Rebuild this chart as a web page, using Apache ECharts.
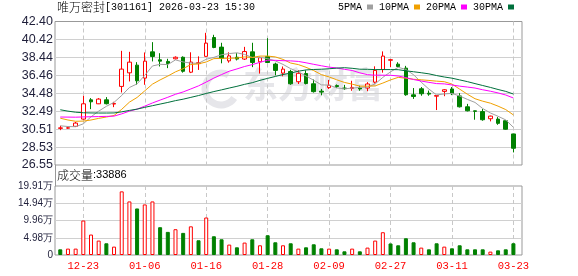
<!DOCTYPE html>
<html><head><meta charset="utf-8">
<script src="https://cdn.jsdelivr.net/npm/echarts@6/dist/echarts.min.js"></script>
<style>html,body{margin:0;padding:0;background:#fff}#c{width:578px;height:276px}</style>
</head><body><div id="c"></div>
<script>
const stockName = '唯万密封';
const stockCode = '301161';
const timeStamp = '2026-03-23 15:30';
const dates = ['12-18','12-19','12-22','12-23','12-24','12-25','12-26','12-29','12-30','12-31',
  '01-05','01-06','01-07','01-08','01-09','01-12','01-13','01-14','01-15','01-16',
  '01-19','01-20','01-21','01-22','01-23','01-26','01-27','01-28','01-29','01-30',
  '02-02','02-03','02-04','02-05','02-06','02-09','02-10','02-11','02-12','02-13',
  '02-24','02-25','02-26','02-27','03-02','03-03','03-04','03-05','03-06','03-09',
  '03-10','03-11','03-12','03-13','03-16','03-17','03-18','03-19','03-20','03-23'];
const open = [30.60,30.62,30.82,31.62,33.75,33.31,33.75,33.28,35.23,36.73,
  37.58,36.15,39.05,38.17,37.99,38.28,38.45,36.80,37.75,38.55,
  40.63,39.57,38.05,38.45,38.25,39.05,37.95,38.54,37.70,36.70,
  36.88,35.75,36.65,35.52,34.70,35.10,35.32,35.05,35.00,35.05,
  35.05,35.70,37.10,38.12,37.69,37.25,34.30,34.97,34.48,34.15,
  34.68,34.95,34.18,32.98,32.53,32.45,31.66,31.62,31.44,29.98];
const close = [30.65,30.66,31.18,33.31,33.53,33.83,33.32,33.35,37.14,37.91,
  35.85,38.02,38.54,38.02,37.76,38.45,36.90,37.92,37.85,40.01,
  39.53,38.32,38.60,38.25,39.08,37.88,38.40,37.87,37.00,37.14,
  35.52,36.68,35.55,34.65,34.60,35.35,35.22,34.98,35.12,34.95,
  35.50,37.00,38.58,38.18,37.43,34.31,34.12,34.42,34.38,34.22,
  34.86,34.42,32.98,32.54,32.48,31.55,31.95,31.15,30.50,28.40];
const low = [30.40,30.55,30.75,31.55,32.72,33.28,33.24,32.94,34.56,35.78,
  35.41,35.41,37.99,37.43,37.25,38.20,36.75,36.70,37.05,38.50,
  39.45,37.78,37.85,38.10,38.15,37.36,36.65,37.80,36.45,36.35,
  35.41,35.50,35.45,34.55,34.25,34.95,35.05,34.85,34.75,34.75,
  34.70,35.55,36.75,37.37,37.36,34.20,33.85,34.20,34.20,32.62,
  34.15,34.27,32.90,32.47,31.55,31.44,31.37,30.99,30.45,27.94];
const high = [30.88,30.78,31.30,34.20,33.94,33.94,34.05,33.53,39.16,39.05,
  37.91,38.98,40.12,38.90,38.28,38.55,38.55,39.00,38.55,41.15,
  40.93,40.05,39.00,38.90,39.60,40.05,38.50,40.56,37.85,37.43,
  37.07,37.00,37.00,36.00,34.95,35.95,35.45,35.40,35.85,35.30,
  35.70,37.45,39.10,38.25,37.90,37.50,35.05,35.16,34.77,34.25,
  34.93,35.16,34.49,33.30,32.55,32.73,32.00,31.84,31.46,30.00];
const volume = [16400,18400,18400,99500,59000,41600,33800,24200,183600,154600,
  134300,145900,154600,80200,66700,74400,63800,82700,42500,108200,
  54100,45400,30000,22200,35800,45400,28000,57000,36700,28000,
  33800,18400,22200,30900,19300,18400,16400,10600,18400,10600,
  21300,41600,65700,33300,28000,48300,36700,21300,16400,33800,
  24200,19300,28000,16400,16400,16400,9700,13500,16400,33886];
const volUp = [0,1,1,1,1,1,0,1,1,1, 0,1,1,0,0,1,0,1,0,1,
  0,0,1,0,1,0,1,0,0,1, 0,1,0,0,0,1,0,0,1,0,
  1,1,1,0,0,0,0,1,0,0, 1,0,0,0,0,0,1,0,0,0];
const ma5 = [30.88,30.80,30.78,31.10,31.87,32.50,33.03,33.47,34.23,35.11,
  35.51,36.45,37.49,37.67,37.64,38.16,37.93,37.81,37.78,38.23,
  38.44,38.73,38.86,38.94,38.76,38.43,38.44,38.30,38.05,37.66,
  37.19,36.84,36.38,35.91,35.40,35.37,35.07,34.96,35.05,35.12,
  35.15,35.51,36.23,36.84,37.34,37.10,36.52,35.69,34.93,34.29,
  34.40,34.46,34.17,33.80,33.46,32.79,32.30,31.93,31.53,30.71];
const ma10 = [31.72,31.52,31.38,31.40,31.52,31.70,31.85,32.02,32.70,33.49,
  34.01,34.74,35.48,35.95,36.37,36.84,37.19,37.65,37.72,37.93,
  38.30,38.33,38.34,38.36,38.49,38.43,38.58,38.58,38.49,38.21,
  37.81,37.64,37.34,36.98,36.53,36.28,35.96,35.67,35.48,35.26,
  35.26,35.29,35.60,35.95,36.23,36.13,36.02,35.96,35.89,35.81,
  35.75,35.49,34.93,34.37,33.87,33.60,33.38,33.05,32.67,32.08];
const ma20 = [31.85,31.84,31.83,31.86,31.88,31.90,31.92,31.95,32.20,32.50,
  32.72,33.05,33.40,33.72,34.03,34.36,34.62,34.95,35.29,35.71,
  36.15,36.54,36.91,37.16,37.43,37.64,37.89,38.12,38.11,38.07,
  38.05,37.99,37.84,37.67,37.51,37.36,37.27,37.12,36.99,36.73,
  36.53,36.47,36.47,36.46,36.38,36.20,35.99,35.82,35.68,35.54,
  35.51,35.39,35.26,35.16,35.05,34.86,34.70,34.51,34.28,33.95];
const ma30 = [32.65,32.50,32.38,32.32,32.30,32.29,32.29,32.30,32.42,32.58,
  32.72,32.92,33.10,33.28,33.46,33.66,33.82,34.02,34.22,34.45,
  34.66,34.85,35.05,35.24,35.46,35.64,35.90,36.12,36.33,36.54,
  36.70,36.91,37.05,37.10,37.13,37.18,37.25,37.30,37.23,37.13,
  37.12,37.09,37.09,37.09,37.08,36.95,36.85,36.74,36.62,36.43,
  36.27,36.14,35.95,35.76,35.54,35.33,35.12,34.89,34.68,34.39];
const maNames = ['5PMA','10PMA','20PMA','30PMA'];
const priceTicks = ['26.55','28.53','30.51','32.49','34.48','36.46','38.44','40.42','42.40'];
const volTicks = ['0','4.98万','9.96万','14.94万','19.91万'];
const priceMin = 26.55, priceMax = 42.40, volMax = 199100;

const N = dates.length;
const cats = ['_s'].concat(dates, ['_e']);
const candle = dates.map((d, i) => [i + 1, open[i], close[i], low[i], high[i]]);
const volData = dates.map((d, i) => ({
  value: [i + 1, volume[i]],
  itemStyle: volUp[i] ? {color: '#ffffff', borderColor: '#ff0000', borderWidth: 1}
                      : {color: '#008000', borderColor: '#008000', borderWidth: 1}
}));
const toLine = arr => arr.map((v, i) => [i + 1, v]);
const maArrs = [ma5, ma10, ma20, ma30];
const maColors = ['#a0a0a0', '#f0a000', '#ff00ff', '#00703c'];

const FRAME_L = 55, FRAME_W = 467, DATA_L = 52.6, DATA_W = 468.5;
const MAIN_T = 21.5, MAIN_H = 143.5, VOL_T = 186, VOL_H = 69;
const labelIdx = idx => idx >= 4 && (idx - 4) % 8 === 0;
const FONT_NUM = 'Liberation Sans';
const CJK = 'Noto Sans CJK SC';

const chart = echarts.init(document.getElementById('c'), null, {renderer: 'canvas'});
chart.setOption({
  animation: false,
  backgroundColor: '#ffffff',
  title: [
    {text: '{a|' + stockName + '}{b|[' + stockCode + '] ' + timeStamp + '}', left: 57, top: 1, padding: 0,
     textStyle: {fontWeight: 'normal', rich: {
       a: {fontFamily: CJK, fontSize: 12, fontWeight: 300, color: '#000'},
       b: {fontFamily: 'Liberation Mono', fontSize: 10, fontWeight: 'normal', color: '#000'}}}},
    {text: '{a|成交量}{b|:' + volume[N - 1] + '}', left: 57, top: 169, padding: 0,
     textStyle: {fontWeight: 'normal', rich: {
       a: {fontFamily: CJK, fontSize: 12, fontWeight: 300, color: '#000'},
       b: {fontFamily: FONT_NUM, fontSize: 11, fontWeight: 'normal', color: '#000'}}}}
  ],
  legend: {
    data: maNames, left: 338, top: 2, padding: 0, icon: 'rect', itemWidth: 6, itemHeight: 5,
    itemGap: 6, align: 'right', selectedMode: false,
    textStyle: {fontFamily: 'Liberation Mono', fontSize: 10, color: '#000', padding: [0, 0, 0, 0]}
  },
  graphic: [
    {type: 'arc', z: 0, silent: true, shape: {cx: 221, cy: 89, r: 16, startAngle: 0.6, endAngle: 5.2},
     style: {stroke: '#e6e6ea', lineWidth: 7, fill: null}},
    {type: 'text', left: 243, top: 67, z: 0, silent: true,
     style: {text: '东方财富', fontFamily: CJK, fontWeight: 'bold', fontSize: 35, fill: '#e6e6ea'}}
  ],
  grid: [
    {left: DATA_L, top: MAIN_T, width: DATA_W, height: MAIN_H},
    {left: DATA_L, top: VOL_T, width: DATA_W, height: VOL_H},
    {left: FRAME_L, top: MAIN_T, width: FRAME_W, height: MAIN_H, show: true, borderColor: '#999', borderWidth: 1},
    {left: FRAME_L, top: VOL_T, width: FRAME_W, height: VOL_H, show: true, borderColor: '#999', borderWidth: 1},
    {left: FRAME_L, top: MAIN_T + MAIN_H, width: FRAME_W, height: VOL_T - MAIN_T - MAIN_H}
  ],
  xAxis: [
    {type: 'category', gridIndex: 0, data: cats, boundaryGap: false,
     axisLine: {show: false}, axisTick: {show: false}, axisLabel: {show: false},
     splitLine: {show: true, interval: labelIdx, lineStyle: {color: '#c8c8c8', type: [4, 3]}}},
    {type: 'category', gridIndex: 1, data: cats, boundaryGap: false,
     axisLine: {show: false}, axisTick: {show: false},
     axisLabel: {show: true, interval: labelIdx, color: '#ff0000', fontFamily: 'Liberation Mono', fontSize: 10.5, margin: 6},
     splitLine: {show: true, interval: labelIdx, lineStyle: {color: '#c8c8c8', type: [4, 3]}}},
    {type: 'value', gridIndex: 2, show: false},
    {type: 'value', gridIndex: 3, show: false},
    {type: 'value', gridIndex: 4, show: false}
  ],
  yAxis: [
    {type: 'value', gridIndex: 0, min: priceMin, max: priceMax, show: false},
    {type: 'value', gridIndex: 1, min: 0, max: volMax, show: false},
    {type: 'category', gridIndex: 2, data: priceTicks, boundaryGap: false,
     axisLine: {show: false}, axisTick: {show: false},
     axisLabel: {margin: 2, fontFamily: FONT_NUM, fontSize: 12.5, color: '#1f1f3a'},
     splitLine: {show: true, interval: (i) => i > 0 && i < priceTicks.length - 1, lineStyle: {color: '#d0d0d0'}}},
    {type: 'category', gridIndex: 3, data: volTicks, boundaryGap: false,
     axisLine: {show: false}, axisTick: {show: false},
     axisLabel: {margin: 2, fontFamily: FONT_NUM, fontSize: 10, color: '#1f1f3a'},
     splitLine: {show: true, interval: (i) => i > 0 && i < volTicks.length - 1, lineStyle: {color: '#d0d0d0'}}},
    {type: 'value', gridIndex: 4, axisLine: {show: true, lineStyle: {color: '#999'}},
     axisLabel: {show: false}, axisTick: {show: false}, splitLine: {show: false}}
  ],
  series: [
    {type: 'candlestick', name: 'K', xAxisIndex: 0, yAxisIndex: 0, data: candle,
     encode: {x: 0, y: [1, 2, 3, 4]}, barWidth: 4, z: 3,
     itemStyle: {color: '#ffffff', color0: '#008000', borderColor: '#ff0000', borderColor0: '#008000', borderWidth: 1}},
    ...maNames.map((n, j) => ({
      type: 'line', name: n, xAxisIndex: 0, yAxisIndex: 0, data: toLine(maArrs[j]),
      showSymbol: false, symbol: 'none', color: maColors[j], z: 4,
      lineStyle: {width: 1, color: maColors[j]}
    })),
    {type: 'bar', name: 'VOL', xAxisIndex: 1, yAxisIndex: 1, data: volData, barWidth: 4, z: 3}
  ]
});
</script></body></html>
